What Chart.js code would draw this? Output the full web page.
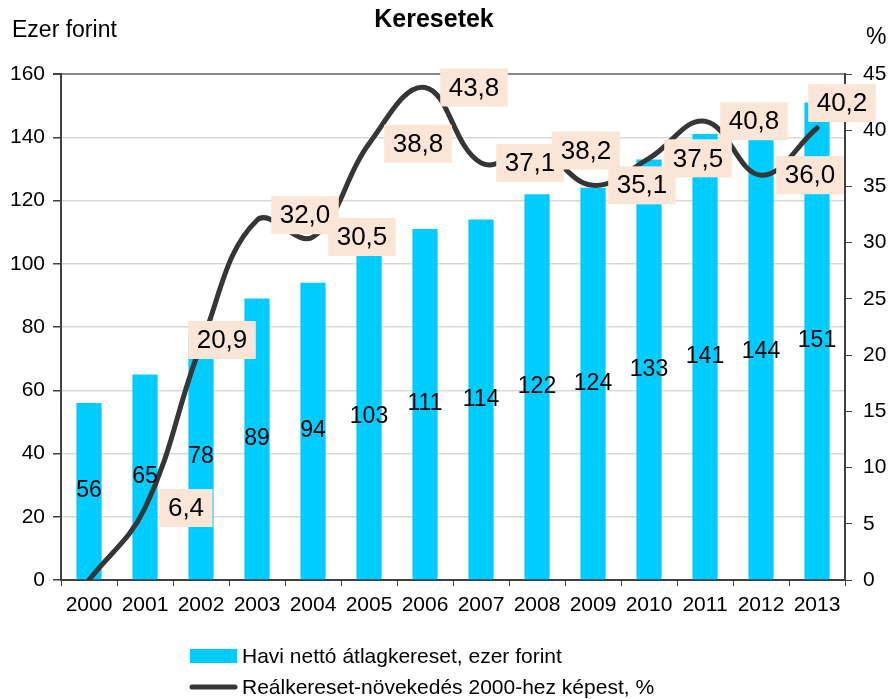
<!DOCTYPE html>
<html>
<head>
<meta charset="utf-8">
<script src="https://cdn.jsdelivr.net/npm/chart.js@4"></script>
<style>
html, body { margin: 0; padding: 0; background: #fff; }
#wrap { width: 891px; height: 699px; position: relative; }
</style>
</head>
<body>
<div id="wrap"><canvas id="myChart"></canvas></div>
<script>
const years = ['2000','2001','2002','2003','2004','2005','2006','2007','2008','2009','2010','2011','2012','2013'];
const netWage = [56, 65, 78, 89, 94, 103, 111, 114, 122, 124, 133, 141, 144, 151];
const realGrowth = [0, 6.4, 20.9, 32.0, 30.5, 38.8, 43.8, 37.1, 38.2, 35.1, 37.5, 40.8, 36.0, 40.2];

// where the % labels sit relative to their point (px), null = no label
const growthLabelDx = [null, 41, 21, 48, 49, 49, 49, 49, 49, 49, 49, 49, 49, 25];
const growthLabelDy = [0, 0, -5, -5, 0, 0, 0, 0, 0, 0, 0, 0, 0, -25];

const FONT = '"Liberation Sans", Arial, sans-serif';
const BAR_COLOR = '#00ccff';
const LINE_COLOR = '#363636';
const AXIS_COLOR = '#404040';

Chart.defaults.font.family = FONT;
Chart.defaults.color = '#000';

const labelPlugin = {
    id: 'keresetLabels',
    afterDatasetsDraw(chart) {
        const ctx = chart.ctx;
        ctx.save();
        ctx.textAlign = 'center';
        ctx.textBaseline = 'middle';

        // bar values in the middle of each bar
        ctx.font = '23px ' + FONT;
        ctx.fillStyle = '#000';
        chart.getDatasetMeta(0).data.forEach((bar, i) => {
            ctx.fillText(String(netWage[i]), bar.x, (bar.y + bar.base) / 2);
        });

        // growth values in boxes
        ctx.font = '26px ' + FONT;
        chart.getDatasetMeta(1).data.forEach((pt, i) => {
            if (growthLabelDx[i] === null) return;
            const txt = realGrowth[i].toFixed(1).replace('.', ',');
            const w = ctx.measureText(txt).width + 17;
            const h = 38;
            const cx = pt.x + growthLabelDx[i];
            const cy = pt.y + growthLabelDy[i];
            ctx.fillStyle = '#fbe5d6';
            ctx.fillRect(cx - w / 2, cy - h / 2, w, h);
            ctx.fillStyle = '#000';
            ctx.fillText(txt, cx, cy + 1);
        });
        ctx.restore();
    },
    afterDraw(chart) {
        const ctx = chart.ctx;
        ctx.save();
        ctx.fillStyle = '#000';
        ctx.textBaseline = 'alphabetic';

        ctx.font = 'bold 25px ' + FONT;
        ctx.textAlign = 'center';
        ctx.fillText('Keresetek', 434, 27);

        ctx.font = '23px ' + FONT;
        ctx.textAlign = 'left';
        ctx.fillText('Ezer forint', 12, 37);
        ctx.fillText('%', 866, 44);

        // legend
        ctx.fillStyle = BAR_COLOR;
        ctx.fillRect(190, 649, 47, 14);
        ctx.strokeStyle = LINE_COLOR;
        ctx.lineWidth = 5;
        ctx.lineCap = 'round';
        ctx.beginPath();
        ctx.moveTo(192, 687);
        ctx.lineTo(235, 687);
        ctx.stroke();

        ctx.fillStyle = '#000';
        ctx.font = '21px ' + FONT;
        ctx.textBaseline = 'middle';
        ctx.fillText('Havi nettó átlagkereset, ezer forint', 242, 657);
        ctx.fillText('Reálkereset-növekedés 2000-hez képest, %', 242, 688);
        ctx.restore();
    }
};

const ctx = document.getElementById('myChart').getContext('2d');

const myChart = new Chart(ctx, {
    type: 'bar',
    data: {
        labels: years,
        datasets: [{
            type: 'bar',
            label: 'Havi nettó átlagkereset, ezer forint',
            data: netWage,
            backgroundColor: BAR_COLOR,
            barPercentage: 0.45,
            categoryPercentage: 1,
            yAxisID: 'y',
            order: 1
        }, {
            type: 'line',
            label: 'Reálkereset-növekedés 2000-hez képest, %',
            data: realGrowth,
            borderColor: LINE_COLOR,
            borderWidth: 5,
            borderCapStyle: 'round',
            tension: 0.4,
            pointRadius: 0,
            fill: false,
            yAxisID: 'y1',
            order: 0
        }]
    },
    options: {
        responsive: true,
        maintainAspectRatio: false,
        animation: false,
        layout: { padding: { top: 74, left: 0, right: 0, bottom: 0 } },
        plugins: {
            legend: { display: false },
            title: { display: false },
            tooltip: { enabled: false }
        },
        scales: {
            x: {
                grid: {
                    offset: true,
                    drawOnChartArea: false,
                    tickLength: 6,
                    tickColor: AXIS_COLOR
                },
                border: { color: AXIS_COLOR, width: 2 },
                ticks: {
                    font: { size: 21 },
                    padding: 7,
                    maxRotation: 0,
                    autoSkip: false
                },
                afterFit(scale) { scale.height = 119; }
            },
            y: {
                position: 'left',
                min: 0,
                max: 160,
                ticks: { stepSize: 20, font: { size: 21 }, padding: 8 },
                grid: {
                    color: c => c.tick && c.tick.value === 160 ? '#888888' : '#d9d9d9',
                    lineWidth: c => c.tick && c.tick.value === 160 ? 2 : 1.5,
                    tickLength: 8,
                    tickColor: AXIS_COLOR
                },
                border: { color: AXIS_COLOR, width: 2 },
                afterFit(scale) { scale.width = 61; }
            },
            y1: {
                position: 'right',
                min: 0,
                max: 45,
                ticks: { stepSize: 5, font: { size: 21 }, padding: 11 },
                grid: {
                    drawOnChartArea: false,
                    tickLength: 7,
                    tickColor: AXIS_COLOR
                },
                border: { color: AXIS_COLOR, width: 2 },
                afterFit(scale) { scale.width = 46; }
            }
        }
    },
    plugins: [labelPlugin]
});
</script>
</body>
</html>
